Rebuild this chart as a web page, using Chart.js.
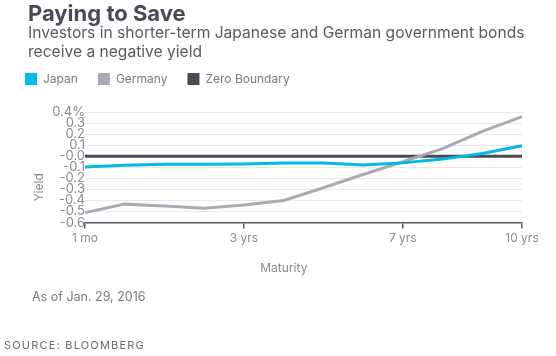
<!DOCTYPE html>
<html>
<head>
<meta charset="utf-8">
<script src="https://cdn.jsdelivr.net/npm/chart.js@4/dist/chart.umd.min.js"></script>
<style>
  html, body { margin: 0; padding: 0; background: #fff; }
  body { width: 556px; height: 356px; position: relative; overflow: hidden; font-family: Inter, "Open Sans", sans-serif; }
  #wrap { position: absolute; left: 0; top: 0; width: 556px; height: 356px; }
  .txt { position: absolute; white-space: nowrap; }
  #title { left: 28px; top: 0px; font-size: 22px; font-weight: bold; color: #4a4955; line-height: 26px; }
  #subtitle { left: 28px; top: 23px; font-size: 15.6px; color: #5a5a62; line-height: 19px; }
  #asof { left: 32px; top: 289px; font-size: 12.5px; color: #7a7a82; }
  #source { left: 4px; top: 338px; font-size: 11px; letter-spacing: 1.2px; color: #6a6a72; }
</style>
</head>
<body>
<div id="wrap"><canvas id="c" width="556" height="356"></canvas></div>
<div class="txt" id="title">Paying to Save</div>
<div class="txt" id="subtitle">Investors in shorter-term Japanese and German government bonds<br>receive a negative yield</div>
<div class="txt" id="asof">As of Jan. 29, 2016</div>
<div class="txt" id="source">SOURCE: BLOOMBERG</div>
<script>
// ---- Data ----
const maturities = ['1 mo', '6 mo', '1 yr', '2 yrs', '3 yrs', '4 yrs', '5 yrs', '6 yrs', '7 yrs', '8 yrs', '9 yrs', '10 yrs'];
const shownMaturities = ['1 mo', '3 yrs', '7 yrs', '10 yrs'];
const japanYield   = [-0.097, -0.081, -0.073, -0.072, -0.070, -0.062, -0.062, -0.080, -0.060, -0.026, 0.024, 0.095];
const germanyYield = [-0.510, -0.433, -0.450, -0.470, -0.440, -0.400, -0.285, -0.165, -0.050, 0.068, 0.225, 0.358];
const zeroBoundary = [0, 0, 0, 0, 0, 0, 0, 0, 0, 0, 0, 0];
const yTickValues = [0.4, 0.3, 0.2, 0.1, 0.0, -0.1, -0.2, -0.3, -0.4, -0.5, -0.6];
const yTickLabels = ['0.4%', '0.3', '0.2', '0.1', '-0.0', '-0.1', '-0.2', '-0.3', '-0.4', '-0.5', '-0.6'];

const FONT = 'Inter, "Open Sans", sans-serif';
const TICK = '#8a8a94';

const layoutTweaks = {
  id: 'layoutTweaks',
  beforeLayout(chart) {
    const lg = chart.legend;
    if (lg && !lg._patched) {
      const fit = lg.fit;
      lg.fit = function () { fit.call(this); this.height += 17; };
      lg._patched = true;
    }
  },
  afterDraw(chart) {
    const ctx = chart.ctx, a = chart.chartArea;
    ctx.save();
    ctx.fillStyle = '#8a8a94';
    ctx.font = '12px ' + FONT;
    ctx.textAlign = 'center';
    ctx.textBaseline = 'middle';
    ctx.fillText('Maturity', a.left + (a.right - a.left) * 0.455, a.bottom + 46);
    ctx.translate(a.left - 46, a.top + (a.bottom - a.top) * 0.68);
    ctx.rotate(-Math.PI / 2);
    ctx.fillText('Yield', 0, 0);
    ctx.restore();
  }
};

new Chart(document.getElementById('c'), {
  type: 'line',
  data: {
    labels: maturities,
    datasets: [
      { label: 'Japan', data: japanYield, borderColor: '#00b9e4', backgroundColor: '#00b9e4', borderWidth: 3, pointRadius: 0, tension: 0 },
      { label: 'Germany', data: germanyYield, borderColor: '#aba9b3', backgroundColor: '#aba9b3', borderWidth: 3, pointRadius: 0, tension: 0 },
      { label: 'Zero Boundary', data: zeroBoundary, borderColor: '#4a4955', backgroundColor: '#4a4955', borderWidth: 3, pointRadius: 0, tension: 0 }
    ]
  },
  options: {
    responsive: false,
    animation: false,
    layout: { padding: { top: 53, left: 5, right: 34, bottom: 107 } },
    plugins: {
      legend: {
        display: true, position: 'top', align: 'start',
        labels: { boxWidth: 12, boxHeight: 12, color: '#7a7a84', font: { family: FONT, size: 12 }, padding: 20,
          generateLabels(chart) {
            return chart.data.datasets.map((d, i) => ({ text: d.label, fillStyle: d.borderColor, strokeStyle: d.borderColor, lineWidth: 0, datasetIndex: i, fontColor: '#7a7a84' }));
          }
        }
      },
      tooltip: { enabled: false }
    },
    scales: {
      x: {
        type: 'category',
        offset: false,
        border: { display: true, color: '#5a5964', width: 1.5 },
        grid: {
          drawOnChartArea: false, drawTicks: true, tickLength: 6,
          tickColor: (c) => (c.tick && shownMaturities.includes(maturities[c.tick.value])) ? '#5a5964' : 'rgba(0,0,0,0)',
          lineWidth: 1.5
        },
        ticks: {
          autoSkip: false, maxRotation: 0, color: TICK, font: { family: FONT, size: 12 }, padding: 3,
          callback: (v) => shownMaturities.includes(maturities[v]) ? maturities[v] : ''
        }
      },
      y: {
        min: -0.6, max: 0.4,
        afterFit: (s) => { s.width = 80; },
        border: { display: false },
        grid: { drawTicks: false, color: (c) => (c.tick && c.tick.value < -0.59) ? 'rgba(0,0,0,0)' : '#e9e9ec', lineWidth: 1 },
        ticks: {
          autoSkip: false, stepSize: 0.1, color: TICK, font: { family: FONT, size: 13 }, padding: 0,
          callback: (v) => { const i = yTickValues.findIndex(t => Math.abs(t - v) < 1e-6); return i >= 0 ? yTickLabels[i] : ''; }
        }
      }
    }
  },
  plugins: [layoutTweaks]
});
</script>
</body>
</html>
